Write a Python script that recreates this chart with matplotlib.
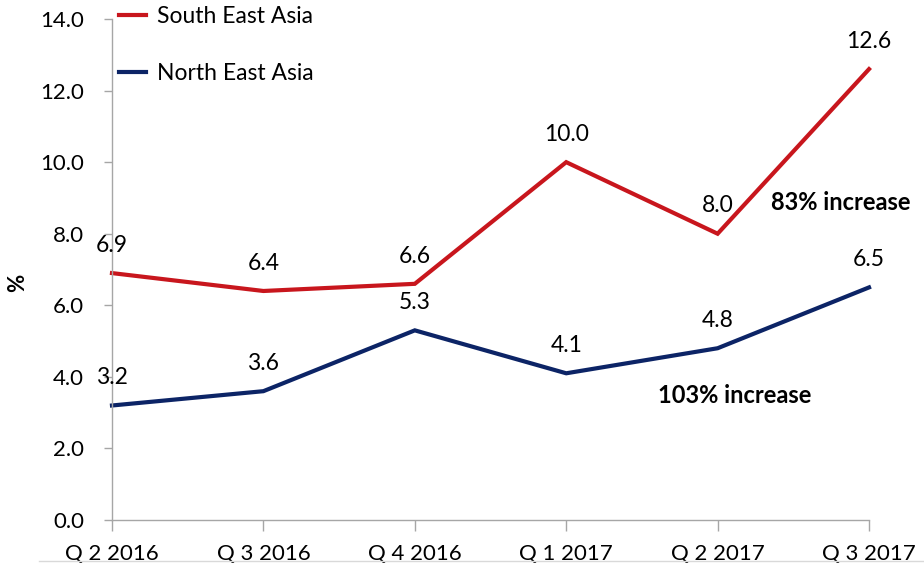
import matplotlib.pyplot as plt
from matplotlib.lines import Line2D

# Quarterly values (%)
quarters = ['Q 2 2016', 'Q 3 2016', 'Q 4 2016', 'Q 1 2017', 'Q 2 2017', 'Q 3 2017']
south_east_asia = [6.9, 6.4, 6.6, 10.0, 8.0, 12.6]
north_east_asia = [3.2, 3.6, 5.3, 4.1, 4.8, 6.5]

plt.rcParams['font.family'] = ['Lato', 'DejaVu Sans']

fig = plt.figure(figsize=(9.24, 5.71), dpi=100)
ax = fig.add_axes([0.1212, 0.0893, 0.8193, 0.8774])

x = list(range(len(quarters)))
red = '#c8161d'
navy = '#0c2466'
ax.plot(x, south_east_asia, color=red, lw=3, label='South East Asia', solid_joinstyle='miter')
ax.plot(x, north_east_asia, color=navy, lw=3, label='North East Asia', solid_joinstyle='miter')

# data labels above each point
for xi, v in zip(x, south_east_asia):
    ax.annotate(f'{v:.1f}', (xi, v), xytext=(0, 20), textcoords='offset points',
                ha='center', va='center', fontsize=16.5, color='black')
for xi, v in zip(x, north_east_asia):
    ax.annotate(f'{v:.1f}', (xi, v), xytext=(0, 20), textcoords='offset points',
                ha='center', va='center', fontsize=16.5, color='black')

ax.text(4.81, 8.88, '83% increase', ha='center', va='center', fontsize=17, fontweight='bold')
ax.text(4.11, 3.49, '103% increase', ha='center', va='center', fontsize=17, fontweight='bold')

ax.set_xlim(0, 5)
ax.set_ylim(0, 14)
ax.set_xticks(x)
ax.set_xticklabels(quarters)
ax.set_yticks([0, 2, 4, 6, 8, 10, 12, 14])
ax.set_yticklabels([f'{t:.1f}' for t in [0, 2, 4, 6, 8, 10, 12, 14]])
ax.tick_params(axis='x', length=8, width=1, color='#a6a6a6', labelsize=16, pad=9)
ax.tick_params(axis='y', length=6, width=1, color='#a6a6a6', labelsize=16, pad=14)
ax.set_ylabel('%', fontsize=16, fontweight='bold', va='center')
ax.yaxis.set_label_coords(-0.124, 0.473)

for s in ['top', 'right']:
    ax.spines[s].set_visible(False)
for s in ['left', 'bottom']:
    ax.spines[s].set_color('#a6a6a6')
    ax.spines[s].set_linewidth(1)
for ln in ax.lines:
    ln.set_clip_on(False)

leg = ax.legend(loc='upper left', bbox_to_anchor=(-0.018, 1.068), frameon=False, fontsize=16.5,
                handlelength=1.2, handletextpad=0.45, labelspacing=1.6)

# faint rule at the bottom of the slide
fig.add_artist(Line2D([0.042, 1.0], [0.017, 0.017], color='#d9d9d9', lw=1, transform=fig.transFigure))

fig.savefig('out.png', dpi=100)
